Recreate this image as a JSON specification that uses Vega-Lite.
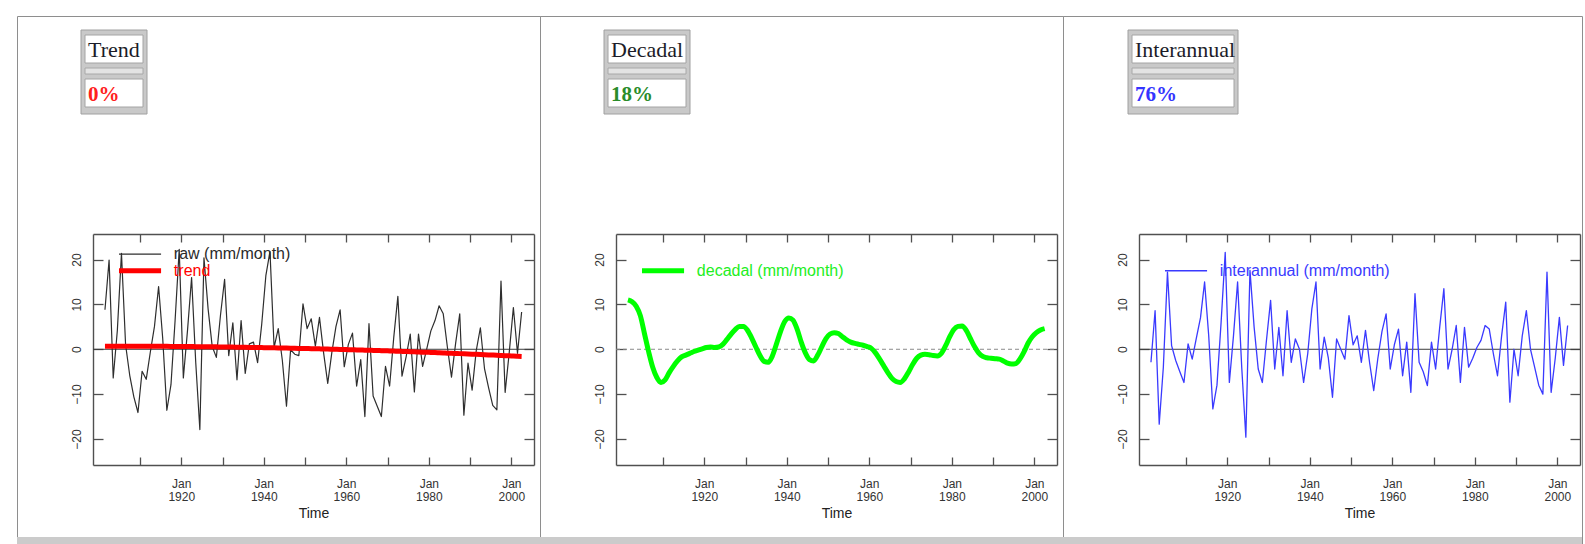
{
  "$schema": "https://vega.github.io/schema/vega-lite/v6.json",
  "background": "white",
  "padding": {"left": 16, "top": 15, "right": 0, "bottom": 0},
  "autosize": {"type": "pad"},
  "bounds": "flush",
  "spacing": 0,
  "datasets": {
    "series": [
      {"time": 1901.5, "raw": 8.8, "trend": 0.70, "decadal": 11.0, "interannual": -2.9},
      {"time": 1902.5, "raw": 19.9, "trend": 0.70, "decadal": 10.6, "interannual": 8.6},
      {"time": 1903.5, "raw": -6.4, "trend": 0.70, "decadal": 9.6, "interannual": -16.7},
      {"time": 1904.5, "raw": 4.2, "trend": 0.70, "decadal": 7.5, "interannual": -4.0},
      {"time": 1905.5, "raw": 21.4, "trend": 0.70, "decadal": 3.5, "interannual": 17.2},
      {"time": 1906.5, "raw": 1.0, "trend": 0.69, "decadal": -0.5, "interannual": 0.8},
      {"time": 1907.5, "raw": -5.8, "trend": 0.69, "decadal": -4.0, "interannual": -2.5},
      {"time": 1908.5, "raw": -10.6, "trend": 0.69, "decadal": -6.3, "interannual": -5.0},
      {"time": 1909.5, "raw": -14.1, "trend": 0.69, "decadal": -7.4, "interannual": -7.4},
      {"time": 1910.5, "raw": -4.9, "trend": 0.68, "decadal": -6.8, "interannual": 1.2},
      {"time": 1911.5, "raw": -6.7, "trend": 0.68, "decadal": -5.2, "interannual": -2.2},
      {"time": 1912.5, "raw": -0.6, "trend": 0.67, "decadal": -3.8, "interannual": 2.5},
      {"time": 1913.5, "raw": 5.1, "trend": 0.67, "decadal": -2.6, "interannual": 7.0},
      {"time": 1914.5, "raw": 14.0, "trend": 0.66, "decadal": -1.7, "interannual": 15.0},
      {"time": 1915.5, "raw": 2.4, "trend": 0.66, "decadal": -1.3, "interannual": 3.0},
      {"time": 1916.5, "raw": -13.6, "trend": 0.65, "decadal": -0.9, "interannual": -13.3},
      {"time": 1917.5, "raw": -7.9, "trend": 0.64, "decadal": -0.5, "interannual": -8.0},
      {"time": 1918.5, "raw": 6.4, "trend": 0.63, "decadal": -0.2, "interannual": 6.0},
      {"time": 1919.5, "raw": 22.3, "trend": 0.63, "decadal": 0.1, "interannual": 21.6},
      {"time": 1920.5, "raw": -6.4, "trend": 0.62, "decadal": 0.4, "interannual": -7.4},
      {"time": 1921.5, "raw": 4.1, "trend": 0.61, "decadal": 0.5, "interannual": 3.0},
      {"time": 1922.5, "raw": 16.0, "trend": 0.60, "decadal": 0.4, "interannual": 15.0},
      {"time": 1923.5, "raw": -2.9, "trend": 0.59, "decadal": 0.5, "interannual": -4.0},
      {"time": 1924.5, "raw": -17.9, "trend": 0.58, "decadal": 1.1, "interannual": -19.6},
      {"time": 1925.5, "raw": 20.4, "trend": 0.57, "decadal": 2.2, "interannual": 17.6},
      {"time": 1926.5, "raw": 9.0, "trend": 0.56, "decadal": 3.4, "interannual": 5.0},
      {"time": 1927.5, "raw": 0.6, "trend": 0.55, "decadal": 4.4, "interannual": -4.4},
      {"time": 1928.5, "raw": -1.8, "trend": 0.54, "decadal": 5.1, "interannual": -7.4},
      {"time": 1929.5, "raw": 7.6, "trend": 0.52, "decadal": 5.1, "interannual": 2.0},
      {"time": 1930.5, "raw": 15.6, "trend": 0.51, "decadal": 4.2, "interannual": 10.9},
      {"time": 1931.5, "raw": -1.4, "trend": 0.50, "decadal": 2.5, "interannual": -4.4},
      {"time": 1932.5, "raw": 5.9, "trend": 0.48, "decadal": 0.5, "interannual": 4.9},
      {"time": 1933.5, "raw": -6.8, "trend": 0.47, "decadal": -1.4, "interannual": -5.9},
      {"time": 1934.5, "raw": 6.4, "trend": 0.45, "decadal": -2.7, "interannual": 8.6},
      {"time": 1935.5, "raw": -5.4, "trend": 0.44, "decadal": -2.9, "interannual": -2.9},
      {"time": 1936.5, "raw": 1.2, "trend": 0.42, "decadal": -1.5, "interannual": 2.3},
      {"time": 1937.5, "raw": 1.6, "trend": 0.41, "decadal": 1.2, "interannual": 0.0},
      {"time": 1938.5, "raw": -3.0, "trend": 0.39, "decadal": 4.0, "interannual": -7.4},
      {"time": 1939.5, "raw": 5.6, "trend": 0.37, "decadal": 6.2, "interannual": -1.0},
      {"time": 1940.5, "raw": 16.4, "trend": 0.36, "decadal": 7.0, "interannual": 9.0},
      {"time": 1941.5, "raw": 21.8, "trend": 0.34, "decadal": 6.5, "interannual": 15.0},
      {"time": 1942.5, "raw": 0.4, "trend": 0.32, "decadal": 4.5, "interannual": -4.4},
      {"time": 1943.5, "raw": 4.6, "trend": 0.30, "decadal": 1.6, "interannual": 2.7},
      {"time": 1944.5, "raw": -2.5, "trend": 0.28, "decadal": -0.8, "interannual": -2.0},
      {"time": 1945.5, "raw": -12.7, "trend": 0.26, "decadal": -2.3, "interannual": -10.7},
      {"time": 1946.5, "raw": -0.1, "trend": 0.24, "decadal": -2.6, "interannual": 2.3},
      {"time": 1947.5, "raw": -1.1, "trend": 0.22, "decadal": -1.3, "interannual": 0.0},
      {"time": 1948.5, "raw": -1.4, "trend": 0.20, "decadal": 0.6, "interannual": -2.2},
      {"time": 1949.5, "raw": 10.1, "trend": 0.18, "decadal": 2.4, "interannual": 7.5},
      {"time": 1950.5, "raw": 4.6, "trend": 0.16, "decadal": 3.4, "interannual": 1.0},
      {"time": 1951.5, "raw": 6.8, "trend": 0.14, "decadal": 3.7, "interannual": 3.0},
      {"time": 1952.5, "raw": 0.7, "trend": 0.11, "decadal": 3.5, "interannual": -2.9},
      {"time": 1953.5, "raw": 7.1, "trend": 0.09, "decadal": 2.8, "interannual": 4.2},
      {"time": 1954.5, "raw": -0.8, "trend": 0.07, "decadal": 2.1, "interannual": -3.0},
      {"time": 1955.5, "raw": -7.6, "trend": 0.04, "decadal": 1.6, "interannual": -9.2},
      {"time": 1956.5, "raw": -0.7, "trend": 0.02, "decadal": 1.3, "interannual": -2.0},
      {"time": 1957.5, "raw": 5.1, "trend": -0.01, "decadal": 1.1, "interannual": 4.0},
      {"time": 1958.5, "raw": 8.8, "trend": -0.03, "decadal": 0.9, "interannual": 7.9},
      {"time": 1959.5, "raw": -3.9, "trend": -0.06, "decadal": 0.6, "interannual": -4.4},
      {"time": 1960.5, "raw": 1.1, "trend": -0.08, "decadal": 0.2, "interannual": 1.0},
      {"time": 1961.5, "raw": 3.6, "trend": -0.11, "decadal": -0.8, "interannual": 4.5},
      {"time": 1962.5, "raw": -8.2, "trend": -0.14, "decadal": -2.2, "interannual": -5.9},
      {"time": 1963.5, "raw": -2.3, "trend": -0.17, "decadal": -3.7, "interannual": 1.6},
      {"time": 1964.5, "raw": -15.0, "trend": -0.20, "decadal": -5.2, "interannual": -9.6},
      {"time": 1965.5, "raw": 5.7, "trend": -0.22, "decadal": -6.5, "interannual": 12.4},
      {"time": 1966.5, "raw": -10.4, "trend": -0.25, "decadal": -7.2, "interannual": -2.9},
      {"time": 1967.5, "raw": -12.7, "trend": -0.28, "decadal": -7.4, "interannual": -5.0},
      {"time": 1968.5, "raw": -15.0, "trend": -0.31, "decadal": -6.6, "interannual": -8.1},
      {"time": 1969.5, "raw": -3.8, "trend": -0.34, "decadal": -5.1, "interannual": 1.6},
      {"time": 1970.5, "raw": -8.2, "trend": -0.37, "decadal": -3.4, "interannual": -4.4},
      {"time": 1971.5, "raw": 2.6, "trend": -0.40, "decadal": -2.0, "interannual": 5.0},
      {"time": 1972.5, "raw": 11.8, "trend": -0.44, "decadal": -1.3, "interannual": 13.5},
      {"time": 1973.5, "raw": -6.0, "trend": -0.47, "decadal": -1.1, "interannual": -4.4},
      {"time": 1974.5, "raw": -1.7, "trend": -0.50, "decadal": -1.2, "interannual": 0.0},
      {"time": 1975.5, "raw": 3.4, "trend": -0.53, "decadal": -1.4, "interannual": 5.3},
      {"time": 1976.5, "raw": -9.5, "trend": -0.57, "decadal": -1.5, "interannual": -7.4},
      {"time": 1977.5, "raw": 3.4, "trend": -0.60, "decadal": -0.9, "interannual": 4.9},
      {"time": 1978.5, "raw": -3.8, "trend": -0.64, "decadal": 0.8, "interannual": -4.0},
      {"time": 1979.5, "raw": 0.1, "trend": -0.67, "decadal": 2.8, "interannual": -2.0},
      {"time": 1980.5, "raw": 4.1, "trend": -0.71, "decadal": 4.4, "interannual": 0.4},
      {"time": 1981.5, "raw": 6.4, "trend": -0.74, "decadal": 5.1, "interannual": 2.0},
      {"time": 1982.5, "raw": 9.7, "trend": -0.78, "decadal": 5.2, "interannual": 5.3},
      {"time": 1983.5, "raw": 7.9, "trend": -0.82, "decadal": 4.2, "interannual": 4.5},
      {"time": 1984.5, "raw": 0.5, "trend": -0.86, "decadal": 2.4, "interannual": -1.0},
      {"time": 1985.5, "raw": -6.2, "trend": -0.89, "decadal": 0.6, "interannual": -5.9},
      {"time": 1986.5, "raw": 1.3, "trend": -0.93, "decadal": -0.8, "interannual": 3.0},
      {"time": 1987.5, "raw": 7.9, "trend": -0.97, "decadal": -1.6, "interannual": 10.5},
      {"time": 1988.5, "raw": -14.7, "trend": -1.01, "decadal": -1.9, "interannual": -11.8},
      {"time": 1989.5, "raw": -3.1, "trend": -1.05, "decadal": -2.0, "interannual": 0.0},
      {"time": 1990.5, "raw": -9.1, "trend": -1.09, "decadal": -2.1, "interannual": -5.9},
      {"time": 1991.5, "raw": -0.3, "trend": -1.13, "decadal": -2.2, "interannual": 3.0},
      {"time": 1992.5, "raw": 4.8, "trend": -1.17, "decadal": -2.6, "interannual": 8.6},
      {"time": 1993.5, "raw": -4.3, "trend": -1.21, "decadal": -3.1, "interannual": 0.0},
      {"time": 1994.5, "raw": -8.6, "trend": -1.25, "decadal": -3.3, "interannual": -4.0},
      {"time": 1995.5, "raw": -12.5, "trend": -1.29, "decadal": -3.2, "interannual": -8.0},
      {"time": 1996.5, "raw": -13.5, "trend": -1.34, "decadal": -2.2, "interannual": -10.0},
      {"time": 1997.5, "raw": 15.2, "trend": -1.38, "decadal": -0.6, "interannual": 17.2},
      {"time": 1998.5, "raw": -9.6, "trend": -1.42, "decadal": 1.4, "interannual": -9.6},
      {"time": 1999.5, "raw": -0.7, "trend": -1.47, "decadal": 2.8, "interannual": -2.0},
      {"time": 2000.5, "raw": 9.3, "trend": -1.51, "decadal": 3.7, "interannual": 7.1},
      {"time": 2001.5, "raw": -0.9, "trend": -1.56, "decadal": 4.3, "interannual": -3.6},
      {"time": 2002.5, "raw": 8.3, "trend": -1.60, "decadal": 4.6, "interannual": 5.3}
    ]
  },
  "config": {
    "view": {"stroke": "#8e8e8e", "strokeWidth": 1},
    "axis": {
      "grid": false,
      "domainColor": "#505050",
      "domainWidth": 1.4,
      "tickColor": "#505050",
      "tickWidth": 1.3,
      "labelFont": "Liberation Sans",
      "labelFontSize": 12,
      "labelColor": "#333333",
      "titleFont": "Liberation Sans",
      "titleFontSize": 14,
      "titleFontWeight": "normal",
      "titleColor": "#222222"
    },
    "text": {"font": "Liberation Sans"},
    "line": {"strokeJoin": "round", "strokeCap": "butt"}
  },
  "hconcat": [
    {
      "width": 523,
      "height": 529,
      "layer": [
        {
          "data": {"name": "series"},
          "layer": [
            {
              "data": {"values": [{"level": 0}]},
              "mark": {"type": "rule", "color": "#3c3c3c", "strokeWidth": 1},
              "encoding": {
                "x": {"datum": 1898.6, "type": "quantitative",
                      "scale": {"domain": [1898.6, 2005.5], "range": [76, 517], "nice": false, "zero": false},
                      "axis": {"orient": "top", "offset": -218, "values": [1910, 1920, 1930, 1940, 1950, 1960, 1970, 1980, 1990, 2000], "labels": false, "tickSize": -8, "title": null}},
                "x2": {"datum": 2005.5},
                "y": {"field": "level", "type": "quantitative",
                      "scale": {"domain": [-25.8, 25.7], "range": [449, 218], "nice": false, "zero": false},
                      "axis": {"orient": "right", "offset": -6, "values": [-20, -10, 0, 10, 20], "labels": false, "tickSize": -10, "title": null}}
              }
            },
            {
              "mark": {"type": "line", "color": "#2e2e2e", "strokeWidth": 1.2},
              "encoding": {
                "x": {"field": "time", "type": "quantitative",
                      "scale": {"domain": [1898.6, 2005.5], "range": [76, 517], "nice": false, "zero": false},
                      "axis": {"orient": "bottom", "offset": -80, "values": [1910, 1920, 1930, 1940, 1950, 1960, 1970, 1980, 1990, 2000], "format": "d", "labelExpr": "datum.value % 20 == 0 ? ['Jan', datum.label] : ''", "tickSize": -8, "labelPadding": 21, "labelBaseline": "top", "labelLineHeight": 13, "labelFlush": false, "labelOverlap": false, "title": "Time", "titlePadding": 4}},
                "y": {"field": "raw", "type": "quantitative",
                      "scale": {"domain": [-25.8, 25.7], "range": [449, 218], "nice": false, "zero": false},
                      "axis": {"orient": "left", "offset": -76, "values": [-20, -10, 0, 10, 20], "labelAngle": 270, "labelAlign": "center", "labelBaseline": "bottom", "tickSize": -10, "labelPadding": 20, "title": null}}
              }
            },
            {
              "mark": {"type": "line", "color": "#ff0000", "strokeWidth": 5, "interpolate": "monotone"},
              "encoding": {
                "x": {"field": "time", "type": "quantitative", "scale": {"domain": [1898.6, 2005.5], "range": [76, 517], "nice": false, "zero": false}, "axis": null},
                "y": {"field": "trend", "type": "quantitative", "scale": {"domain": [-25.8, 25.7], "range": [449, 218], "nice": false, "zero": false}, "axis": null}
              }
            },
            {
              "data": {"values": [{"label": "raw (mm/month)"}]},
              "layer": [
                {
                  "mark": {"type": "rule", "color": "#2e2e2e", "strokeWidth": 1.2},
                  "encoding": {
                    "x": {"datum": 1904.9, "type": "quantitative", "scale": {"domain": [1898.6, 2005.5], "range": [76, 517], "nice": false, "zero": false}, "axis": null},
                    "x2": {"datum": 1915.1},
                    "y": {"datum": 21.2, "type": "quantitative", "scale": {"domain": [-25.8, 25.7], "range": [449, 218], "nice": false, "zero": false}, "axis": null}
                  }
                },
                {
                  "mark": {"type": "text", "align": "left", "baseline": "middle", "fontSize": 16, "color": "#2a2a2a"},
                  "encoding": {
                    "x": {"datum": 1918.2, "type": "quantitative", "scale": {"domain": [1898.6, 2005.5], "range": [76, 517], "nice": false, "zero": false}, "axis": null},
                    "y": {"datum": 21.2, "type": "quantitative", "scale": {"domain": [-25.8, 25.7], "range": [449, 218], "nice": false, "zero": false}, "axis": null},
                    "text": {"field": "label"}
                  }
                }
              ]
            },
            {
              "data": {"values": [{"label": "trend"}]},
              "layer": [
                {
                  "mark": {"type": "rule", "color": "#ff0000", "strokeWidth": 5},
                  "encoding": {
                    "x": {"datum": 1904.9, "type": "quantitative", "scale": {"domain": [1898.6, 2005.5], "range": [76, 517], "nice": false, "zero": false}, "axis": null},
                    "x2": {"datum": 1915.1},
                    "y": {"datum": 17.5, "type": "quantitative", "scale": {"domain": [-25.8, 25.7], "range": [449, 218], "nice": false, "zero": false}, "axis": null}
                  }
                },
                {
                  "mark": {"type": "text", "align": "left", "baseline": "middle", "fontSize": 16, "color": "#ff0000"},
                  "encoding": {
                    "x": {"datum": 1918.2, "type": "quantitative", "scale": {"domain": [1898.6, 2005.5], "range": [76, 517], "nice": false, "zero": false}, "axis": null},
                    "y": {"datum": 17.5, "type": "quantitative", "scale": {"domain": [-25.8, 25.7], "range": [449, 218], "nice": false, "zero": false}, "axis": null},
                    "text": {"field": "label"}
                  }
                }
              ]
            }
          ],
          "resolve": {"axis": {"x": "independent", "y": "independent"}}
        },
        {
          "data": {"values": [{"component": "Trend", "share": 0}]},
          "layer": [
            {
              "mark": {"type": "rect", "fill": "#c9c9c9", "stroke": "#a0a0a0", "strokeWidth": 1},
              "encoding": {
                "x": {"datum": 64, "type": "quantitative", "scale": {"domain": [0, 523], "range": [0, 523]}, "axis": null},
                "x2": {"datum": 130},
                "y": {"datum": 14, "type": "quantitative", "scale": {"domain": [0, 529], "range": [0, 529]}, "axis": null},
                "y2": {"datum": 98}
              }
            },
            {
              "mark": {"type": "rect", "fill": "white", "stroke": "#a4a4a4", "strokeWidth": 1},
              "encoding": {
                "x": {"datum": 68, "type": "quantitative", "scale": {"domain": [0, 523], "range": [0, 523]}, "axis": null},
                "x2": {"datum": 126},
                "y": {"datum": 19, "type": "quantitative", "scale": {"domain": [0, 529], "range": [0, 529]}, "axis": null},
                "y2": {"datum": 47}
              }
            },
            {
              "mark": {"type": "rect", "fill": "#e3e3e3", "stroke": "#a8a8a8", "strokeWidth": 1},
              "encoding": {
                "x": {"datum": 68, "type": "quantitative", "scale": {"domain": [0, 523], "range": [0, 523]}, "axis": null},
                "x2": {"datum": 126},
                "y": {"datum": 52, "type": "quantitative", "scale": {"domain": [0, 529], "range": [0, 529]}, "axis": null},
                "y2": {"datum": 58}
              }
            },
            {
              "mark": {"type": "rect", "fill": "white", "stroke": "#a4a4a4", "strokeWidth": 1},
              "encoding": {
                "x": {"datum": 68, "type": "quantitative", "scale": {"domain": [0, 523], "range": [0, 523]}, "axis": null},
                "x2": {"datum": 126},
                "y": {"datum": 63, "type": "quantitative", "scale": {"domain": [0, 529], "range": [0, 529]}, "axis": null},
                "y2": {"datum": 91}
              }
            },
            {
              "mark": {"type": "text", "align": "left", "baseline": "alphabetic", "font": "Liberation Serif", "fontSize": 22, "color": "#1c1c28"},
              "encoding": {
                "x": {"datum": 71, "type": "quantitative", "scale": {"domain": [0, 523], "range": [0, 523]}, "axis": null},
                "y": {"datum": 41, "type": "quantitative", "scale": {"domain": [0, 529], "range": [0, 529]}, "axis": null},
                "text": {"field": "component"}
              }
            },
            {
              "mark": {"type": "text", "align": "left", "baseline": "alphabetic", "font": "Liberation Serif", "fontSize": 21, "fontWeight": "bold", "color": "#ff2020"},
              "encoding": {
                "x": {"datum": 71, "type": "quantitative", "scale": {"domain": [0, 523], "range": [0, 523]}, "axis": null},
                "y": {"datum": 85, "type": "quantitative", "scale": {"domain": [0, 529], "range": [0, 529]}, "axis": null},
                "text": {"field": "share", "type": "quantitative", "format": ".0%"}
              }
            },
            {
              "mark": {"type": "rect", "fill": "#cbcbcb"},
              "encoding": {
                "x": {"datum": 0, "type": "quantitative", "scale": {"domain": [0, 523], "range": [0, 523]}, "axis": null},
                "x2": {"datum": 523},
                "y": {"datum": 521, "type": "quantitative", "scale": {"domain": [0, 529], "range": [0, 529]}, "axis": null},
                "y2": {"datum": 529}
              }
            }
          ]
        }
      ],
      "resolve": {"scale": {"x": "independent", "y": "independent"}}
    },
    {
      "width": 523,
      "height": 529,
      "layer": [
        {
          "data": {"name": "series"},
          "layer": [
            {
              "data": {"values": [{"level": 0}]},
              "mark": {"type": "rule", "color": "#8a8a8a", "strokeWidth": 1, "strokeDash": [4, 3]},
              "encoding": {
                "x": {"datum": 1898.6, "type": "quantitative",
                      "scale": {"domain": [1898.6, 2005.5], "range": [76, 517], "nice": false, "zero": false},
                      "axis": {"orient": "top", "offset": -218, "values": [1910, 1920, 1930, 1940, 1950, 1960, 1970, 1980, 1990, 2000], "labels": false, "tickSize": -8, "title": null}},
                "x2": {"datum": 2005.5},
                "y": {"field": "level", "type": "quantitative",
                      "scale": {"domain": [-25.8, 25.7], "range": [449, 218], "nice": false, "zero": false},
                      "axis": {"orient": "right", "offset": -6, "values": [-20, -10, 0, 10, 20], "labels": false, "tickSize": -10, "title": null}}
              }
            },
            {
              "mark": {"type": "line", "color": "#00ff00", "strokeWidth": 5, "interpolate": "monotone"},
              "encoding": {
                "x": {"field": "time", "type": "quantitative",
                      "scale": {"domain": [1898.6, 2005.5], "range": [76, 517], "nice": false, "zero": false},
                      "axis": {"orient": "bottom", "offset": -80, "values": [1910, 1920, 1930, 1940, 1950, 1960, 1970, 1980, 1990, 2000], "format": "d", "labelExpr": "datum.value % 20 == 0 ? ['Jan', datum.label] : ''", "tickSize": -8, "labelPadding": 21, "labelBaseline": "top", "labelLineHeight": 13, "labelFlush": false, "labelOverlap": false, "title": "Time", "titlePadding": 4}},
                "y": {"field": "decadal", "type": "quantitative",
                      "scale": {"domain": [-25.8, 25.7], "range": [449, 218], "nice": false, "zero": false},
                      "axis": {"orient": "left", "offset": -76, "values": [-20, -10, 0, 10, 20], "labelAngle": 270, "labelAlign": "center", "labelBaseline": "bottom", "tickSize": -10, "labelPadding": 20, "title": null}}
              }
            },
            {
              "data": {"values": [{"label": "decadal (mm/month)"}]},
              "layer": [
                {
                  "mark": {"type": "rule", "color": "#00ff00", "strokeWidth": 5},
                  "encoding": {
                    "x": {"datum": 1904.9, "type": "quantitative", "scale": {"domain": [1898.6, 2005.5], "range": [76, 517], "nice": false, "zero": false}, "axis": null},
                    "x2": {"datum": 1915.1},
                    "y": {"datum": 17.5, "type": "quantitative", "scale": {"domain": [-25.8, 25.7], "range": [449, 218], "nice": false, "zero": false}, "axis": null}
                  }
                },
                {
                  "mark": {"type": "text", "align": "left", "baseline": "middle", "fontSize": 16, "color": "#22ee22"},
                  "encoding": {
                    "x": {"datum": 1918.2, "type": "quantitative", "scale": {"domain": [1898.6, 2005.5], "range": [76, 517], "nice": false, "zero": false}, "axis": null},
                    "y": {"datum": 17.5, "type": "quantitative", "scale": {"domain": [-25.8, 25.7], "range": [449, 218], "nice": false, "zero": false}, "axis": null},
                    "text": {"field": "label"}
                  }
                }
              ]
            }
          ],
          "resolve": {"axis": {"x": "independent", "y": "independent"}}
        },
        {
          "data": {"values": [{"component": "Decadal", "share": 0.18}]},
          "layer": [
            {
              "mark": {"type": "rect", "fill": "#c9c9c9", "stroke": "#a0a0a0", "strokeWidth": 1},
              "encoding": {
                "x": {"datum": 64, "type": "quantitative", "scale": {"domain": [0, 523], "range": [0, 523]}, "axis": null},
                "x2": {"datum": 150},
                "y": {"datum": 14, "type": "quantitative", "scale": {"domain": [0, 529], "range": [0, 529]}, "axis": null},
                "y2": {"datum": 98}
              }
            },
            {
              "mark": {"type": "rect", "fill": "white", "stroke": "#a4a4a4", "strokeWidth": 1},
              "encoding": {
                "x": {"datum": 68, "type": "quantitative", "scale": {"domain": [0, 523], "range": [0, 523]}, "axis": null},
                "x2": {"datum": 146},
                "y": {"datum": 19, "type": "quantitative", "scale": {"domain": [0, 529], "range": [0, 529]}, "axis": null},
                "y2": {"datum": 47}
              }
            },
            {
              "mark": {"type": "rect", "fill": "#e3e3e3", "stroke": "#a8a8a8", "strokeWidth": 1},
              "encoding": {
                "x": {"datum": 68, "type": "quantitative", "scale": {"domain": [0, 523], "range": [0, 523]}, "axis": null},
                "x2": {"datum": 146},
                "y": {"datum": 52, "type": "quantitative", "scale": {"domain": [0, 529], "range": [0, 529]}, "axis": null},
                "y2": {"datum": 58}
              }
            },
            {
              "mark": {"type": "rect", "fill": "white", "stroke": "#a4a4a4", "strokeWidth": 1},
              "encoding": {
                "x": {"datum": 68, "type": "quantitative", "scale": {"domain": [0, 523], "range": [0, 523]}, "axis": null},
                "x2": {"datum": 146},
                "y": {"datum": 63, "type": "quantitative", "scale": {"domain": [0, 529], "range": [0, 529]}, "axis": null},
                "y2": {"datum": 91}
              }
            },
            {
              "mark": {"type": "text", "align": "left", "baseline": "alphabetic", "font": "Liberation Serif", "fontSize": 22, "color": "#1c1c28"},
              "encoding": {
                "x": {"datum": 71, "type": "quantitative", "scale": {"domain": [0, 523], "range": [0, 523]}, "axis": null},
                "y": {"datum": 41, "type": "quantitative", "scale": {"domain": [0, 529], "range": [0, 529]}, "axis": null},
                "text": {"field": "component"}
              }
            },
            {
              "mark": {"type": "text", "align": "left", "baseline": "alphabetic", "font": "Liberation Serif", "fontSize": 21, "fontWeight": "bold", "color": "#2a8c2a"},
              "encoding": {
                "x": {"datum": 71, "type": "quantitative", "scale": {"domain": [0, 523], "range": [0, 523]}, "axis": null},
                "y": {"datum": 85, "type": "quantitative", "scale": {"domain": [0, 529], "range": [0, 529]}, "axis": null},
                "text": {"field": "share", "type": "quantitative", "format": ".0%"}
              }
            },
            {
              "mark": {"type": "rect", "fill": "#cbcbcb"},
              "encoding": {
                "x": {"datum": 0, "type": "quantitative", "scale": {"domain": [0, 523], "range": [0, 523]}, "axis": null},
                "x2": {"datum": 523},
                "y": {"datum": 521, "type": "quantitative", "scale": {"domain": [0, 529], "range": [0, 529]}, "axis": null},
                "y2": {"datum": 529}
              }
            }
          ]
        }
      ],
      "resolve": {"scale": {"x": "independent", "y": "independent"}}
    },
    {
      "width": 519,
      "height": 529,
      "layer": [
        {
          "data": {"name": "series"},
          "layer": [
            {
              "data": {"values": [{"level": 0}]},
              "mark": {"type": "rule", "color": "#3c3c3c", "strokeWidth": 1},
              "encoding": {
                "x": {"datum": 1898.6, "type": "quantitative",
                      "scale": {"domain": [1898.6, 2005.5], "range": [76, 517], "nice": false, "zero": false},
                      "axis": {"orient": "top", "offset": -218, "values": [1910, 1920, 1930, 1940, 1950, 1960, 1970, 1980, 1990, 2000], "labels": false, "tickSize": -8, "title": null}},
                "x2": {"datum": 2005.5},
                "y": {"field": "level", "type": "quantitative",
                      "scale": {"domain": [-25.8, 25.7], "range": [449, 218], "nice": false, "zero": false},
                      "axis": {"orient": "right", "offset": -2, "values": [-20, -10, 0, 10, 20], "labels": false, "tickSize": -10, "title": null}}
              }
            },
            {
              "mark": {"type": "line", "color": "#3a3aff", "strokeWidth": 1.3},
              "encoding": {
                "x": {"field": "time", "type": "quantitative",
                      "scale": {"domain": [1898.6, 2005.5], "range": [76, 517], "nice": false, "zero": false},
                      "axis": {"orient": "bottom", "offset": -80, "values": [1910, 1920, 1930, 1940, 1950, 1960, 1970, 1980, 1990, 2000], "format": "d", "labelExpr": "datum.value % 20 == 0 ? ['Jan', datum.label] : ''", "tickSize": -8, "labelPadding": 21, "labelBaseline": "top", "labelLineHeight": 13, "labelFlush": false, "labelOverlap": false, "title": "Time", "titlePadding": 4}},
                "y": {"field": "interannual", "type": "quantitative",
                      "scale": {"domain": [-25.8, 25.7], "range": [449, 218], "nice": false, "zero": false},
                      "axis": {"orient": "left", "offset": -76, "values": [-20, -10, 0, 10, 20], "labelAngle": 270, "labelAlign": "center", "labelBaseline": "bottom", "tickSize": -10, "labelPadding": 20, "title": null}}
              }
            },
            {
              "data": {"values": [{"label": "interannual (mm/month)"}]},
              "layer": [
                {
                  "mark": {"type": "rule", "color": "#3a3aff", "strokeWidth": 1.5},
                  "encoding": {
                    "x": {"datum": 1904.9, "type": "quantitative", "scale": {"domain": [1898.6, 2005.5], "range": [76, 517], "nice": false, "zero": false}, "axis": null},
                    "x2": {"datum": 1915.1},
                    "y": {"datum": 17.5, "type": "quantitative", "scale": {"domain": [-25.8, 25.7], "range": [449, 218], "nice": false, "zero": false}, "axis": null}
                  }
                },
                {
                  "mark": {"type": "text", "align": "left", "baseline": "middle", "fontSize": 16, "color": "#3a3aff"},
                  "encoding": {
                    "x": {"datum": 1918.2, "type": "quantitative", "scale": {"domain": [1898.6, 2005.5], "range": [76, 517], "nice": false, "zero": false}, "axis": null},
                    "y": {"datum": 17.5, "type": "quantitative", "scale": {"domain": [-25.8, 25.7], "range": [449, 218], "nice": false, "zero": false}, "axis": null},
                    "text": {"field": "label"}
                  }
                }
              ]
            }
          ],
          "resolve": {"axis": {"x": "independent", "y": "independent"}}
        },
        {
          "data": {"values": [{"component": "Interannual", "share": 0.76}]},
          "layer": [
            {
              "mark": {"type": "rect", "fill": "#c9c9c9", "stroke": "#a0a0a0", "strokeWidth": 1},
              "encoding": {
                "x": {"datum": 65, "type": "quantitative", "scale": {"domain": [0, 519], "range": [0, 519]}, "axis": null},
                "x2": {"datum": 175},
                "y": {"datum": 14, "type": "quantitative", "scale": {"domain": [0, 529], "range": [0, 529]}, "axis": null},
                "y2": {"datum": 98}
              }
            },
            {
              "mark": {"type": "rect", "fill": "white", "stroke": "#a4a4a4", "strokeWidth": 1},
              "encoding": {
                "x": {"datum": 69, "type": "quantitative", "scale": {"domain": [0, 519], "range": [0, 519]}, "axis": null},
                "x2": {"datum": 171},
                "y": {"datum": 19, "type": "quantitative", "scale": {"domain": [0, 529], "range": [0, 529]}, "axis": null},
                "y2": {"datum": 47}
              }
            },
            {
              "mark": {"type": "rect", "fill": "#e3e3e3", "stroke": "#a8a8a8", "strokeWidth": 1},
              "encoding": {
                "x": {"datum": 69, "type": "quantitative", "scale": {"domain": [0, 519], "range": [0, 519]}, "axis": null},
                "x2": {"datum": 171},
                "y": {"datum": 52, "type": "quantitative", "scale": {"domain": [0, 529], "range": [0, 529]}, "axis": null},
                "y2": {"datum": 58}
              }
            },
            {
              "mark": {"type": "rect", "fill": "white", "stroke": "#a4a4a4", "strokeWidth": 1},
              "encoding": {
                "x": {"datum": 69, "type": "quantitative", "scale": {"domain": [0, 519], "range": [0, 519]}, "axis": null},
                "x2": {"datum": 171},
                "y": {"datum": 63, "type": "quantitative", "scale": {"domain": [0, 529], "range": [0, 529]}, "axis": null},
                "y2": {"datum": 91}
              }
            },
            {
              "mark": {"type": "text", "align": "left", "baseline": "alphabetic", "font": "Liberation Serif", "fontSize": 22, "color": "#1c1c28"},
              "encoding": {
                "x": {"datum": 72, "type": "quantitative", "scale": {"domain": [0, 519], "range": [0, 519]}, "axis": null},
                "y": {"datum": 41, "type": "quantitative", "scale": {"domain": [0, 529], "range": [0, 529]}, "axis": null},
                "text": {"field": "component"}
              }
            },
            {
              "mark": {"type": "text", "align": "left", "baseline": "alphabetic", "font": "Liberation Serif", "fontSize": 21, "fontWeight": "bold", "color": "#3434ff"},
              "encoding": {
                "x": {"datum": 72, "type": "quantitative", "scale": {"domain": [0, 519], "range": [0, 519]}, "axis": null},
                "y": {"datum": 85, "type": "quantitative", "scale": {"domain": [0, 529], "range": [0, 529]}, "axis": null},
                "text": {"field": "share", "type": "quantitative", "format": ".0%"}
              }
            },
            {
              "mark": {"type": "rect", "fill": "#cbcbcb"},
              "encoding": {
                "x": {"datum": 0, "type": "quantitative", "scale": {"domain": [0, 519], "range": [0, 519]}, "axis": null},
                "x2": {"datum": 519},
                "y": {"datum": 521, "type": "quantitative", "scale": {"domain": [0, 529], "range": [0, 529]}, "axis": null},
                "y2": {"datum": 529}
              }
            }
          ]
        }
      ],
      "resolve": {"scale": {"x": "independent", "y": "independent"}}
    }
  ]
}
